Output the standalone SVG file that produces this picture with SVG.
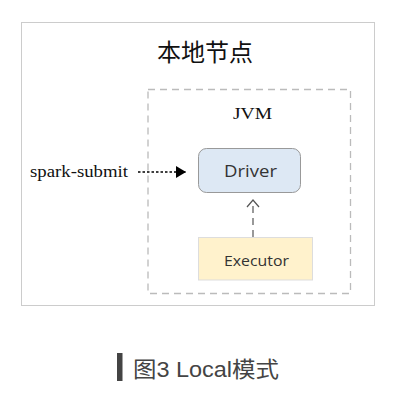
<svg xmlns="http://www.w3.org/2000/svg" width="404" height="413" viewBox="0 0 404 413">
<style>
.serif{font-family:"Liberation Serif","DejaVu Serif",serif;fill:#111}
.sans{font-family:"Open Sans","DejaVu Sans",sans-serif;fill:#333}
.cjk{font-family:"Noto Sans CJK SC",sans-serif;fill:#111}
</style>
<defs>
<marker id="solid" markerWidth="10" markerHeight="12" refX="10" refY="6" orient="auto" markerUnits="userSpaceOnUse">
<path d="M0,0 L10,6 L0,12 Z" fill="#000"/>
</marker>
<marker id="open" markerWidth="14" markerHeight="10" refX="7" refY="1" orient="0" markerUnits="userSpaceOnUse">
<path d="M1,8 L7,1 L13,8" fill="none" stroke="#555" stroke-width="1.2"/>
</marker>
</defs>
<rect width="404" height="413" fill="#fff"/>
<g id="node-local">
<rect x="21.5" y="22.5" width="353" height="283" fill="#fff" stroke="#ccc" stroke-width="1"/>
<text class="cjk" x="205" y="61" font-size="24" text-anchor="middle">本地节点</text>
</g>
<g id="node-jvm">
<rect x="148" y="89.5" width="202.5" height="204" fill="none" stroke="#bbb" stroke-width="1.3" stroke-dasharray="7,5"/>
<text class="serif" x="233" y="119" font-size="17" textLength="39" lengthAdjust="spacingAndGlyphs">JVM</text>
</g>
<g id="node-driver">
<rect x="198.5" y="148.5" width="102" height="44" rx="8" fill="#dde8f4" stroke="#999" stroke-width="1"/>
<text class="sans" x="224" y="177" font-size="17" textLength="53" lengthAdjust="spacingAndGlyphs">Driver</text>
</g>
<g id="node-executor">
<rect x="198.5" y="237.5" width="114" height="42.5" fill="#fff2cc" stroke="#ddd" stroke-width="1"/>
<text class="sans" x="224" y="266" font-size="15" textLength="65" lengthAdjust="spacingAndGlyphs">Executor</text>
</g>
<g id="node-spark-submit">
<text class="serif" x="30" y="177" font-size="16" textLength="98" lengthAdjust="spacingAndGlyphs">spark-submit</text>
</g>
<g id="connectors">
<line x1="138" y1="172" x2="186" y2="172" stroke="#000" stroke-width="1.5" stroke-dasharray="2.5,2" marker-end="url(#solid)"/>
<line x1="253" y1="237" x2="253" y2="200" stroke="#555" stroke-width="1.2" stroke-dasharray="7,5" marker-end="url(#open)"/>
</g>
<g id="caption">
<rect x="117" y="353" width="5.5" height="28" fill="#444"/>
<text x="133" y="377" font-size="22" font-family="Liberation Sans,Noto Sans CJK SC,sans-serif" fill="#444" textLength="146" lengthAdjust="spacingAndGlyphs">图3 Local模式</text>
</g>
</svg>
